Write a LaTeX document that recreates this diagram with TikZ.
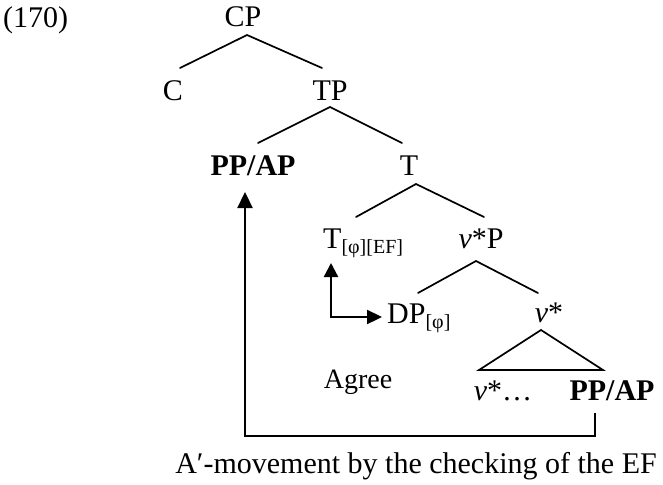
\documentclass[tikz,border=0pt]{standalone}
\usepackage{fontspec}
\setmainfont{Liberation Serif}
\usetikzlibrary{arrows.meta,calc}
% lowered, smaller feature subscripts
\newcommand{\feat}[1]{\raisebox{-5pt}{\fontsize{20}{20}\selectfont #1}}
\begin{document}
\begin{tikzpicture}[x=1pt,y=-1pt,
  lbl/.style={inner sep=0pt, anchor=base, font=\fontsize{30}{34}\selectfont},
  boldlbl/.style={lbl, font=\bfseries\fontsize{30}{34}\selectfont},
  branch/.style={line width=1.7pt, line cap=round},
  move/.style={line width=2.3pt, -{Triangle[length=16pt,width=15pt]}},
  agreearrow/.style={line width=2.3pt, {Triangle[length=14pt,width=14pt]}-{Triangle[length=15pt,width=14pt]}},
]
\useasboundingbox (0,0) rectangle (663,484);

% labels
\node[lbl, anchor=base west] (ex) at (3,28) {(170)};
\node[lbl] (CP) at (243,27) {CP};
\node[lbl] (C) at (173,100) {C};
\node[lbl] (TP) at (330,100) {TP};
\node[boldlbl] (PP1) at (253,175) {PP/AP};
\node[lbl] (T) at (409,175) {T};
\node[lbl, anchor=base west] (Tf) at (323,248) {T\feat{[φ][EF]}};
\node[lbl] (vP) at (481,248) {\textit{v}*P};
\node[lbl, anchor=base west] (DP) at (387,323) {DP\feat{[φ]}};
\node[lbl] (vs) at (549,322) {\textit{v}*};
\node[lbl, font=\fontsize{28}{32}\selectfont] (agree) at (358,388) {Agree};
\node[lbl] (vdots) at (503,400) {\textit{v}*…};
\node[boldlbl] (PP2) at (612,400) {PP/AP};
\node[lbl] (cap) at (416,473) {A′-movement by the checking of the EF};

% branches
\draw[branch] ($(C.base)+(7,-32)$) -- ($(CP.base)+(4,8)$) -- ($(TP.base)+(-8,-32)$);
\draw[branch] ($(PP1.base)+(5,-32)$) -- ($(TP.base)+(0,7)$) -- ($(T.base)+(-7,-32)$);
\draw[branch] ($(Tf.base west)+(33,-31)$) -- ($(T.base)+(7,9)$) -- ($(vP.base)+(3,-31)$);
\draw[branch] ($(DP.base west)+(31,-30)$) -- ($(vP.base)+(-5,13)$) -- ($(vs.base)+(-11,-29)$);
\draw[branch, line join=miter] ($(vs.base)+(-8,8)$) -- ($(vdots.base)+(-24,-30)$)
  -- ($(PP2.base)+(-9,-30)$) -- cycle;

% Agree between T and the DP
\draw[agreearrow] ($(Tf.base west)+(8,15)$) |- ($(DP.base west)+(-5,-6)$);

% movement of PP/AP to Spec-TP
\draw[move] ($(PP2.base)+(-17,13)$) -- ++(0,23) -| ($(PP1.base)+(-8,17)$);
\end{tikzpicture}
\end{document}
